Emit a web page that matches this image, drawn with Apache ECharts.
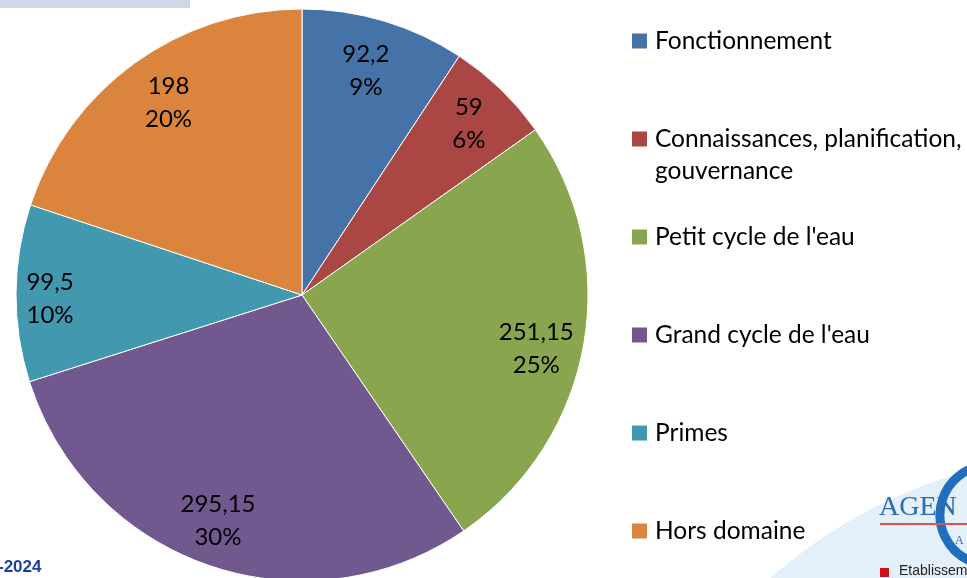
<!DOCTYPE html>
<html>
<head>
<meta charset="utf-8">
<script src="https://cdn.jsdelivr.net/npm/echarts@6/dist/echarts.min.js"></script>
<style>
  html, body { margin: 0; padding: 0; background: #fff; }
  #chart { width: 967px; height: 578px; }
</style>
</head>
<body>
<div id="chart"></div>
<script>
// data
var categories = ["Fonctionnement", "Connaissances, planification, gouvernance", "Petit cycle de l'eau",
    "Grand cycle de l'eau", "Primes", "Hors domaine"];
var values = [92.2, 59, 251.15, 295.15, 99.5, 198];
var colors = ["#4572A7", "#AA4643", "#89A54E", "#71588F", "#4198AF", "#DB843D"];
// nudges so labels sit where Excel put them
var labelNudge = [[-5, 6], [0, 1], [-2, 12], [-6, -1], [-12, 5], [7, 2]];

var chart = echarts.init(document.getElementById("chart"));

var pieData = [];
var labelData = [];
for (var i = 0; i < categories.length; i++) {
    pieData.push({name: categories[i], value: values[i], itemStyle: {color: colors[i]}});
    labelData.push({name: categories[i], value: values[i], label: {offset: labelNudge[i]}});
}

function legendText(name) {
    if (name === categories[1]) {
        return "\nConnaissances, planification,\ngouvernance";
    }
    return "\n" + name + "\n";
}

var option = {
    animation: false,
    legend: {
        orient: "vertical",
        left: 632,
        top: -7,
        height: 640,
        padding: 0,
        itemWidth: 15,
        itemHeight: 15,
        itemGap: 2,
        icon: "rect",
        selectedMode: false,
        itemStyle: {borderWidth: 0},
        data: categories,
        formatter: legendText,
        textStyle: {fontFamily: "Lato", fontSize: 24.5, lineHeight: 32, color: "#000", padding: [0, 0, 0, 3]}
    },
    series: [
        {
            name: "main",
            type: "pie",
            center: [302, 295],
            radius: [0, 286],
            startAngle: 90,
            clockwise: true,
            silent: true,
            itemStyle: {borderColor: "#fff", borderWidth: 1},
            label: {show: false},
            labelLine: {show: false},
            data: pieData
        },
        {
            name: "labels",
            type: "pie",
            center: [302, 295],
            radius: [188, 286],
            startAngle: 90,
            clockwise: true,
            silent: true,
            itemStyle: {color: "transparent"},
            labelLine: {show: false},
            label: {
                show: true,
                position: "inside",
                fontFamily: "Lato",
                fontSize: 24,
                lineHeight: 33,
                color: "#000",
                formatter: function (p) {
                    return String(p.value).replace(".", ",") + "\n" + Math.round(p.percent) + "%";
                }
            },
            data: labelData
        }
    ],
    graphic: [
        {type: "rect", left: 0, top: 0, shape: {width: 190, height: 8}, style: {fill: "#D0D8E7"}},
        {type: "text", left: -2, top: 559, style: {text: "-2024", font: "bold 17px 'Liberation Sans'", fill: "#1B3FA0"}},
        {type: "circle", shape: {cx: 1100, cy: 950, r: 497}, style: {fill: "#E3F0FA"}, z: -10},
        {type: "arc", shape: {cx: 990, cy: 515, r: 50, startAngle: 1.9, endAngle: 4.5}, style: {stroke: "#1E6FBF", lineWidth: 9, fill: null}},
        {type: "text", left: 879, top: 494, style: {text: "AGEN", font: "28px 'Liberation Serif'", fill: "#2A6DB5"}},
        {type: "line", shape: {x1: 880, y1: 524, x2: 967, y2: 524}, style: {stroke: "#D9534F", lineWidth: 2}},
        {type: "text", left: 955, top: 535, style: {text: "A", font: "12px 'Liberation Serif'", fill: "#2A6DB5"}},
        {type: "rect", left: 880, top: 568, shape: {width: 9, height: 9}, style: {fill: "#D0101A"}},
        {type: "text", left: 899, top: 564, style: {text: "Etablissem", font: "14px 'Liberation Sans'", fill: "#222"}}
    ]
};

chart.setOption(option);
</script>
</body>
</html>
